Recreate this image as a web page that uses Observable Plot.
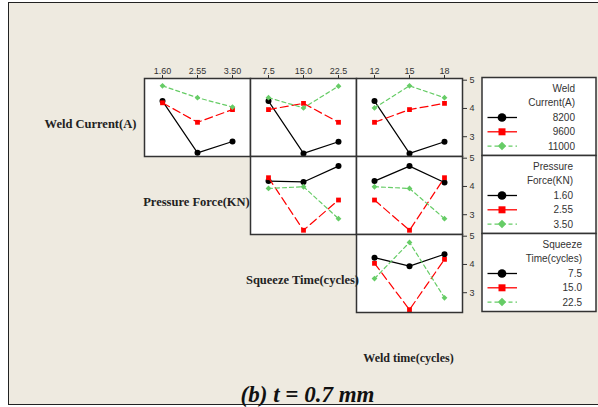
<!DOCTYPE html>
<html><head><meta charset="utf-8">
<script src="https://cdn.jsdelivr.net/npm/d3@7"></script>
<script src="https://cdn.jsdelivr.net/npm/@observablehq/plot@0.6"></script>
<style>
body{margin:0;background:#fff;}
#wrap{position:relative;width:598px;height:407px;overflow:hidden;}
#bg{position:absolute;left:8px;top:2px;width:600px;height:403px;background:#EEEAE0;border:1.5px solid #222;box-sizing:border-box;}
.panel{position:absolute;}
.panel svg{overflow:visible;background:transparent;max-width:none;}
#ov{position:absolute;left:0;top:0;pointer-events:none;}
</style>
</head><body>
<div id="wrap"><div id="bg"></div></div>
<script>
// ---- data ----
const currentLevels = ["8200","9600","11000"];
const forceLevels = ["1.60","2.55","3.50"];
const squeezeLevels = ["7.5","15.0","22.5"];
const timeLevels = ["12","15","18"];
const yTicks = [3,4,5];

// row 1: Weld Current lines (8200, 9600, 11000)
const current_by_force   = [[4.26,2.43,2.83],[4.20,3.51,3.96],[4.80,4.38,4.05]];
const current_by_squeeze = [[4.26,2.41,2.82],[3.96,4.18,3.51],[4.38,4.02,4.79]];
const current_by_time    = [[4.26,2.41,2.82],[3.51,3.96,4.18],[4.02,4.80,4.38]];
// row 2: Pressure Force lines (1.60, 2.55, 3.50)
const force_by_squeeze   = [[4.19,4.16,4.72],[4.31,2.45,3.52],[3.93,3.99,2.86]];
const force_by_time      = [[4.19,4.72,4.14],[3.52,2.45,4.31],[3.99,3.93,2.86]];
// row 3: Squeeze Time lines (7.5, 15.0, 22.5)
const squeeze_by_time    = [[4.24,3.94,4.36],[4.04,2.40,4.18],[3.50,4.78,2.82]];

const factorNames = ["Weld Current(A)","Pressure Force(KN)","Squeeze Time(cycles)","Weld time(cycles)"];
const legendTitles = [["Weld","Current(A)"],["Pressure","Force(KN)"],["Squeeze","Time(cycles)"]];
const titleText = "(b) t = 0.7 mm";

// ---- styles ----
const seriesColors = ["#000000","#FF0000","#66CC66"];
const seriesDash = [undefined,"8,4","4,3"];
const legendDash = [null,null,"4,3"];
const seriesSymbols = ["circle","square","diamond2"];
const markerR = [3, 2.7, 2.6];
const legendSym = [d3.symbolCircle, d3.symbolSquare, d3.symbolDiamond2 || d3.symbolDiamond];
const legendSize = [60, 49, 46];

const colLeft = [143.5, 249.5, 355.5], colW = 106;
const rowTop = [77.5, 155.5, 233.5], rowH = 78;
const xLevelsByCol = [forceLevels, squeezeLevels, timeLevels];
const seriesByRow = [currentLevels, forceLevels, squeezeLevels];
const panelValues = {"0-0": current_by_force, "0-1": current_by_squeeze, "0-2": current_by_time,
                     "1-1": force_by_squeeze, "1-2": force_by_time, "2-2": squeeze_by_time};

const wrap = document.getElementById("wrap");

for (let r = 0; r < 3; r++) {
  for (let c = r; c < 3; c++) {
    const xs = xLevelsByCol[c];
    const vals = panelValues[`${r}-${c}`];
    const mt = r === 0 ? 20 : 0, mr = c === 2 ? 20 : 0;
    const marks = [Plot.frame({fill: "white"})];
    vals.forEach((arr, k) => {
      const data = xs.map((x, i) => ({x, y: arr[i]}));
      marks.push(Plot.line(data, {x: "x", y: "y", stroke: seriesColors[k], strokeWidth: 1.2, strokeDasharray: seriesDash[k]}));
      marks.push(Plot.dot(data, {x: "x", y: "y", symbol: seriesSymbols[k], r: markerR[k], fill: seriesColors[k], stroke: "none"}));
    });
    marks.push(Plot.frame({stroke: "#333", strokeWidth: 1.5}));
    const chart = Plot.plot({
      width: colW + mr, height: rowH + mt,
      marginTop: mt, marginRight: mr, marginLeft: 0, marginBottom: 0,
      x: {type: "point", domain: xs, padding: 0.5, axis: r === 0 ? "top" : null, tickSize: 4, tickPadding: 1, label: null},
      y: {domain: [2.3, 5.06], axis: c === 2 ? "right" : null, ticks: yTicks, tickFormat: d => String(d), tickSize: 4, tickPadding: 3, label: null},
      style: {fontFamily: "'Liberation Sans', Arial, sans-serif", fontSize: "9px", color: "#333", background: "transparent", overflow: "visible"},
      marks
    });
    const div = document.createElement("div");
    div.className = "panel";
    div.style.left = colLeft[c] + "px";
    div.style.top = (rowTop[r] - mt) + "px";
    div.appendChild(chart);
    wrap.appendChild(div);
  }
}

// ---- overlay: legends, factor labels, title ----
const ov = d3.select(wrap).append("svg").attr("id", "ov").attr("width", 598).attr("height", 407);
const legendTextRight = [93, 91, 100];
seriesByRow.forEach((levels, k) => {
  const g = ov.append("g").attr("transform", `translate(482,${rowTop[k]})`);
  g.append("rect").attr("width", 114).attr("height", rowH).attr("fill", "white").attr("stroke", "#333").attr("stroke-width", 1.5);
  const tx = legendTextRight[k];
  const tg = g.append("g").attr("font-family", "'Liberation Sans', Arial, sans-serif").attr("font-size", 10).attr("fill", "#333").attr("text-anchor", "end");
  legendTitles[k].forEach((t, i) => tg.append("text").attr("x", tx).attr("y", [10.5, 25][i] + 3.6).text(t));
  levels.forEach((lv, i) => {
    const cy = 40 + i * 14.3;
    g.append("line").attr("x1", 5.5).attr("x2", 35).attr("y1", cy).attr("y2", cy)
      .attr("stroke", seriesColors[i]).attr("stroke-width", 1.3).attr("stroke-dasharray", legendDash[i]);
    g.append("path").attr("d", d3.symbol(legendSym[i], legendSize[i])()).attr("transform", `translate(20,${cy})`).attr("fill", seriesColors[i]);
    tg.append("text").attr("x", tx).attr("y", cy + 3.6).text(lv);
  });
});

const labelX = [37.5 + 53, colLeft[0] + 53, colLeft[1] + 53, colLeft[2] + 53];
const labelY = [rowTop[0], rowTop[1], rowTop[2], rowTop[2] + rowH].map(t => t + rowH / 2 + 11.5);
factorNames.forEach((n, i) => {
  ov.append("text").attr("x", labelX[i]).attr("y", labelY[i]).attr("text-anchor", "middle")
    .attr("font-family", "'Liberation Serif', 'Times New Roman', serif").attr("font-weight", "bold")
    .attr("font-size", i === 3 ? 12 : 12.5).attr("fill", "#222").text(n);
});
ov.append("text").attr("x", 307.5).attr("y", 401.5).attr("text-anchor", "middle")
  .attr("font-family", "'Liberation Serif', 'Times New Roman', serif").attr("font-weight", "bold").attr("font-style", "italic")
  .attr("font-size", 23).attr("fill", "#111").text(titleText);
</script>
</body></html>
